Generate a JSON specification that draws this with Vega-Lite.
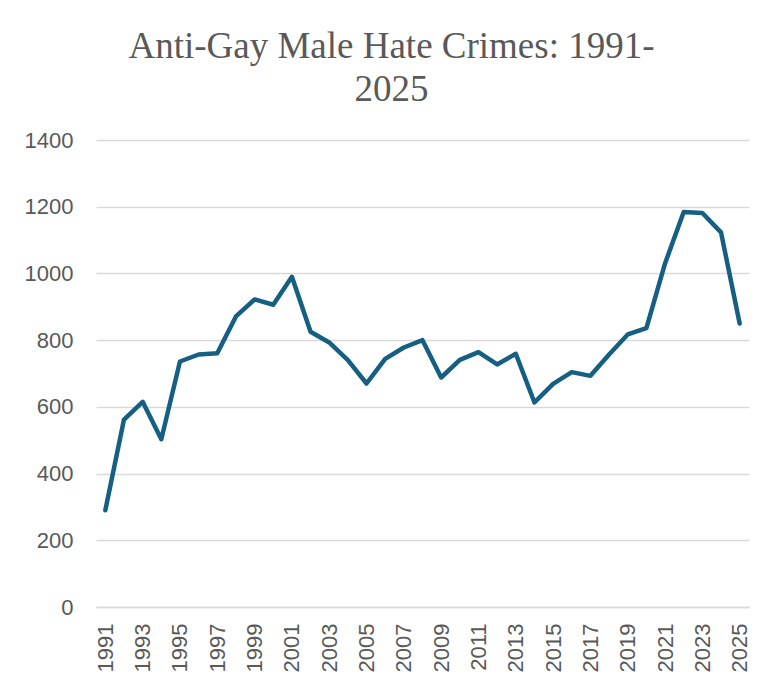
{
  "$schema": "https://vega.github.io/schema/vega-lite/v6.json",
  "autosize": "none",
  "padding": {"left": 96, "top": 140, "right": 35, "bottom": 87},
  "width": 653,
  "height": 467,
  "background": "white",
  "title": {
    "text": ["Anti-Gay Male Hate Crimes: 1991-", "2025"],
    "font": "Liberation Serif",
    "fontSize": 37,
    "fontWeight": "normal",
    "color": "#595959",
    "lineHeight": 43,
    "anchor": "middle",
    "frame": "group",
    "dx": -31,
    "offset": 20
  },
  "data": {
    "values": [
      {"year": 1991, "crimes": 290},
      {"year": 1992, "crimes": 562},
      {"year": 1993, "crimes": 615},
      {"year": 1994, "crimes": 503},
      {"year": 1995, "crimes": 736},
      {"year": 1996, "crimes": 757},
      {"year": 1997, "crimes": 761},
      {"year": 1998, "crimes": 871},
      {"year": 1999, "crimes": 922},
      {"year": 2000, "crimes": 906},
      {"year": 2001, "crimes": 990},
      {"year": 2002, "crimes": 825},
      {"year": 2003, "crimes": 793},
      {"year": 2004, "crimes": 740},
      {"year": 2005, "crimes": 670},
      {"year": 2006, "crimes": 744},
      {"year": 2007, "crimes": 778},
      {"year": 2008, "crimes": 800},
      {"year": 2009, "crimes": 688},
      {"year": 2010, "crimes": 741},
      {"year": 2011, "crimes": 764},
      {"year": 2012, "crimes": 727},
      {"year": 2013, "crimes": 759},
      {"year": 2014, "crimes": 613},
      {"year": 2015, "crimes": 669},
      {"year": 2016, "crimes": 704},
      {"year": 2017, "crimes": 693},
      {"year": 2018, "crimes": 757},
      {"year": 2019, "crimes": 817},
      {"year": 2020, "crimes": 836},
      {"year": 2021, "crimes": 1030},
      {"year": 2022, "crimes": 1184},
      {"year": 2023, "crimes": 1181},
      {"year": 2024, "crimes": 1123},
      {"year": 2025, "crimes": 850}
    ]
  },
  "mark": {"type": "line", "color": "#156082", "strokeWidth": 4.5, "strokeJoin": "round", "strokeCap": "round"},
  "encoding": {
    "x": {
      "field": "year",
      "type": "ordinal",
      "scale": {"type": "point", "padding": 0.5},
      "axis": {
        "title": null,
        "values": [1991, 1993, 1995, 1997, 1999, 2001, 2003, 2005, 2007, 2009, 2011, 2013, 2015, 2017, 2019, 2021, 2023, 2025],
        "labelAngle": 270,
        "labelFont": "Liberation Sans",
        "labelFontSize": 22,
        "labelColor": "#595959",
        "labelPadding": 16,
        "ticks": false,
        "domainColor": "#d9d9d9",
        "domainWidth": 1.3,
        "grid": false
      }
    },
    "y": {
      "field": "crimes",
      "type": "quantitative",
      "scale": {"domain": [0, 1400], "nice": false},
      "axis": {
        "title": null,
        "values": [0, 200, 400, 600, 800, 1000, 1200, 1400],
        "format": "d",
        "labelFont": "Liberation Sans",
        "labelFontSize": 22,
        "labelColor": "#595959",
        "labelPadding": 23,
        "ticks": false,
        "domain": false,
        "grid": true,
        "gridColor": "#d9d9d9",
        "gridWidth": 1.3
      }
    }
  },
  "config": {"view": {"stroke": null}}
}
